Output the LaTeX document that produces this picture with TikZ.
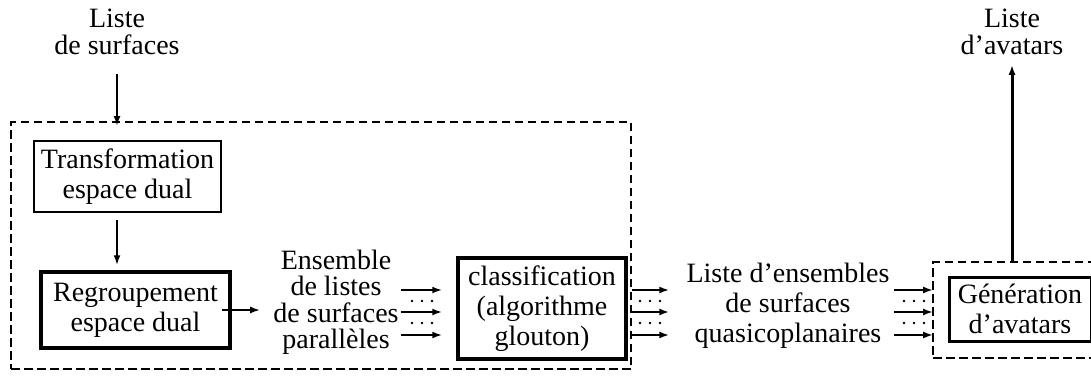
\documentclass[tikz,border=0pt]{standalone}
\usepackage{fontspec}
\setmainfont{Liberation Serif}
\usetikzlibrary{arrows.meta,positioning,calc}

\begin{document}
\begin{tikzpicture}[x=1pt,y=-1pt,
    font=\fontsize{28}{30}\selectfont,
    texte/.style={align=center,inner sep=0pt,font=\fontsize{28}{26.5}\selectfont},
    bloc/.style={draw,align=center,inner sep=0pt,line width=2pt},
    cadre/.style={draw,dash pattern=on 8.5pt off 4.5pt,line width=1.8pt,inner sep=0pt},
    fleche/.style={-{Latex[length=10pt,width=7pt]},line width=2pt}]
    \useasboundingbox (0,0) rectangle (1091,375);
    % dashed groups
    \node[cadre,minimum width=620,minimum height=247] (etape1) at (321,245.5) {};
    \node[cadre,minimum width=170,minimum height=96] (etape2) at (1018,310) {};
    % inputs and outputs
    \node[texte] (lsurf) at (117,32) {Liste\\de surfaces};
    \node[texte] (lavat) at (1012,32) {Liste\\d’avatars};
    % processing blocks
    \node[bloc,minimum width=187,minimum height=71] (trans) at (127.5,176.5) {Transformation\\espace dual};
    \node[bloc,line width=3.5pt,minimum width=189,minimum height=76] (regr) at (135.5,310) {Regroupement\\espace dual};
    \node[texte] (ens) at (336,302.5) {Ensemble\\de listes\\de surfaces\\parallèles};
    \node[bloc,line width=3.5pt,minimum width=168,minimum height=101] (classif) at (542,308.5) {classification\\(algorithme\\glouton)};
    \node[texte,font=\fontsize{28}{30}\selectfont] (lens) at (788,306) {Liste d’ensembles\\de surfaces\\quasicoplanaires};
    \node[bloc,line width=3pt,minimum width=142,minimum height=64] (gen) at (1020,309) {Génération\\d’avatars};
    % connectors
    \draw[fleche,shorten <=19pt,shorten >=-5pt] (lsurf.south) -- (lsurf |- etape1.north);
    \draw[fleche,shorten <=7pt,shorten >=5pt] (trans.south -| lsurf) -- (regr.north -| lsurf);
    \draw[fleche,shorten >=13pt] ([xshift=-10pt]regr.east) -- (ens.west |- regr.east);
    \foreach \y in {290,312,335} {
      \draw[fleche,line width=2.5pt,shorten <=2pt,shorten >=14pt] (ens.east |- 0,\y) -- (classif.west |- 0,\y);
      \draw[fleche,line width=2.5pt,shorten >=17pt] (etape1.east |- 0,\y) -- (lens.west |- 0,\y);
      \draw[fleche,line width=2.5pt,shorten <=4.5pt,shorten >=-1pt] (lens.east |- 0,\y) -- (etape2.west |- 0,\y);
    }
    \foreach \x in {422,650,914}
      \foreach \y in {301,323}
        \foreach \d in {-10,0,10}
          \fill (\x+\d,\y) circle (1.3pt);
    \draw[fleche,line width=3pt,shorten >=10pt] (etape2.north -| lavat) -- (lavat.south);
\end{tikzpicture}
\end{document}
